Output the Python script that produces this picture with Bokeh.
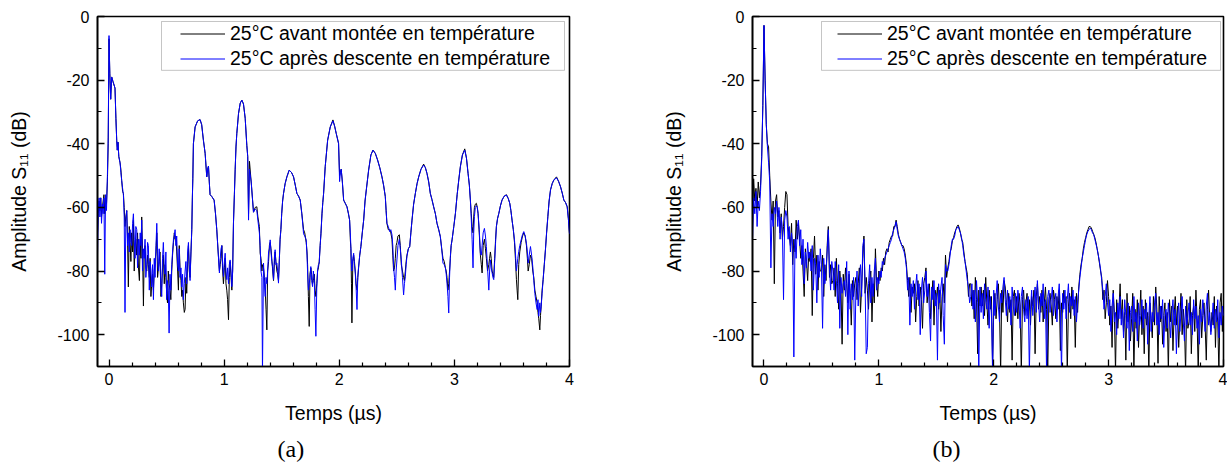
from bokeh.plotting import figure
from bokeh.models import Range1d, FixedTicker, Legend, LegendItem, BoxAnnotation, Title
from bokeh.layouts import row
from bokeh.embed import file_html
from bokeh.resources import INLINE

# ---------------- data : panel (a) ----------------
t_a = [
    -0.100, -0.093, -0.086, -0.079, -0.072, -0.065, -0.058, -0.051, -0.044, -0.037,
    -0.030, -0.022, -0.014, -0.007, 0.000, 0.007, 0.0145, 0.023, 0.035, 0.052,
    0.060, 0.067, 0.072, 0.078, 0.085, 0.096, 0.103, 0.110, 0.118, 0.125,
    0.132, 0.139, 0.146, 0.154, 0.161, 0.168, 0.176, 0.183, 0.190, 0.197,
    0.205, 0.212, 0.219, 0.226, 0.233, 0.241, 0.248, 0.256, 0.264, 0.271,
    0.278, 0.284, 0.291, 0.299, 0.306, 0.313, 0.320, 0.328, 0.335, 0.342,
    0.350, 0.357, 0.364, 0.371, 0.378, 0.386, 0.393, 0.400, 0.408, 0.415,
    0.422, 0.429, 0.436, 0.443, 0.451, 0.458, 0.465, 0.472, 0.480, 0.487,
    0.494, 0.501, 0.508, 0.515, 0.522, 0.530, 0.537, 0.545, 0.552, 0.560,
    0.567, 0.574, 0.581, 0.588, 0.596, 0.603, 0.610, 0.617, 0.625, 0.632,
    0.639, 0.646, 0.654, 0.661, 0.668, 0.675, 0.683, 0.690, 0.697, 0.704,
    0.712, 0.719, 0.724, 0.728, 0.733, 0.748, 0.770, 0.791, 0.805, 0.820,
    0.835, 0.849, 0.857, 0.864, 0.871, 0.878, 0.893, 0.913, 0.925, 0.936,
    0.948, 0.959, 0.966, 0.973, 0.980, 0.987, 0.994, 1.002, 1.009, 1.016,
    1.023, 1.030, 1.038, 1.045, 1.052, 1.060, 1.067, 1.074, 1.081, 1.089,
    1.096, 1.103, 1.110, 1.125, 1.140, 1.154, 1.168, 1.183, 1.197, 1.205,
    1.212, 1.220, 1.235, 1.255, 1.270, 1.284, 1.293, 1.306, 1.313, 1.320,
    1.328, 1.333, 1.342, 1.350, 1.357, 1.364, 1.371, 1.378, 1.386, 1.393,
    1.400, 1.407, 1.414, 1.422, 1.429, 1.436, 1.443, 1.450, 1.458, 1.465,
    1.472, 1.480, 1.486, 1.493, 1.500, 1.508, 1.516, 1.530, 1.545, 1.565,
    1.585, 1.603, 1.618, 1.632, 1.647, 1.661, 1.675, 1.690, 1.700, 1.713,
    1.720, 1.725, 1.732, 1.739, 1.746, 1.753, 1.760, 1.768, 1.775, 1.783,
    1.790, 1.797, 1.805, 1.812, 1.819, 1.826, 1.834, 1.841, 1.850, 1.857,
    1.864, 1.878, 1.899, 1.922, 1.945, 1.960, 1.974, 1.994, 2.003, 2.010,
    2.017, 2.027, 2.038, 2.052, 2.067, 2.080, 2.090, 2.096, 2.101, 2.106,
    2.110, 2.118, 2.125, 2.132, 2.139, 2.146, 2.154, 2.161, 2.168, 2.178,
    2.188, 2.200, 2.212, 2.224, 2.235, 2.255, 2.275, 2.293, 2.313, 2.333,
    2.352, 2.371, 2.385, 2.400, 2.407, 2.414, 2.426, 2.438, 2.448, 2.458,
    2.465, 2.472, 2.480, 2.487, 2.494, 2.501, 2.510, 2.522, 2.530, 2.539,
    2.549, 2.559, 2.566, 2.574, 2.581, 2.588, 2.600, 2.612, 2.622, 2.632,
    2.646, 2.661, 2.676, 2.690, 2.710, 2.733, 2.748, 2.762, 2.777, 2.791,
    2.805, 2.820, 2.835, 2.849, 2.864, 2.878, 2.890, 2.901, 2.912, 2.922,
    2.929, 2.936, 2.944, 2.951, 2.958, 2.965, 2.972, 2.980, 2.995, 3.009,
    3.024, 3.038, 3.052, 3.070, 3.090, 3.105, 3.119, 3.130, 3.139, 3.147,
    3.154, 3.162, 3.168, 3.174, 3.182, 3.191, 3.199, 3.206, 3.216, 3.226,
    3.234, 3.241, 3.250, 3.261, 3.270, 3.278, 3.288, 3.299, 3.306, 3.313,
    3.320, 3.328, 3.335, 3.342, 3.350, 3.358, 3.365, 3.375, 3.386, 3.400,
    3.414, 3.432, 3.452, 3.468, 3.481, 3.491, 3.501, 3.512, 3.522, 3.530,
    3.539, 3.545, 3.551, 3.559, 3.568, 3.580, 3.592, 3.603, 3.615, 3.626,
    3.634, 3.641, 3.650, 3.661, 3.671, 3.681, 3.690, 3.699, 3.709, 3.719,
    3.726, 3.733, 3.742, 3.748, 3.754, 3.762, 3.771, 3.781, 3.791, 3.801,
    3.812, 3.823, 3.835, 3.850, 3.864, 3.887, 3.905, 3.922, 3.937, 3.951,
    3.966, 3.980, 3.990, 4.000,
]

# 25°C après descente en température (blue)
apres_a = [
    -75, -60, -57, -63, -57, -65, -59, -62, -57, -81,
    -56, -61, -50, -38, -6, -18, -26, -19, -20.5, -22.5,
    -32, -39, -42, -39.5, -44, -46, -49, -51.5, -54, -56,
    -63, -93, -64, -61, -72, -68, -74, -67, -71, -72,
    -65, -62, -70, -76, -66, -67, -79, -70, -75, -68,
    -72, -64, -80, -73, -76, -70, -82, -78, -71, -72,
    -86, -77, -80, -85, -78, -89, -76, -82, -72, -65,
    -74, -80, -73, -78, -85, -88, -76, -71, -79, -81,
    -74, -89, -83, -86, -99.5, -81, -86, -78, -74, -70,
    -69, -67, -72, -69, -78, -80, -73, -82, -79, -85,
    -81, -89, -84, -80, -77, -84, -74, -71, -78, -83,
    -74, -67, -57, -51, -40, -34.7, -32.8, -32.4, -34, -38.9,
    -43, -50.4, -48, -47, -52, -56, -56.6, -57.7, -62, -67,
    -74, -80.6, -76, -73, -72, -78, -81.7, -77, -74.4, -80,
    -82.7, -79, -84, -78, -76.5, -80, -84.9, -80, -65, -56,
    -48, -41, -36.8, -30.5, -27.2, -26.3, -27.5, -32, -40.5, -44,
    -64, -48, -52, -61.5, -60.5, -61, -64, -68, -72, -80,
    -82, -112, -77.5, -84, -88, -82, -84, -80, -74, -73,
    -70.2, -74, -77, -79, -82.7, -76, -73.3, -78, -77.5, -80,
    -83.8, -76, -70, -67, -62, -58, -55.6, -52.5, -50.4, -48.3,
    -49, -50.4, -53, -55.6, -56.5, -57.7, -62, -68.3, -69, -70.2,
    -75, -80.6, -86, -84, -82, -78.6, -83, -84.9, -80, -82.7,
    -92, -100.5, -85, -79.6, -78, -77.5, -72, -68.3, -62, -58.5,
    -55.6, -47.2, -38.9, -34.7, -32.8, -34.5, -36.8, -39.9, -51.9, -49,
    -48, -52, -57.7, -58.7, -59.8, -62, -64, -68, -72.3, -78,
    -80, -76, -74.4, -78, -80.6, -85, -92.1, -82, -78.6, -75,
    -72.3, -68, -64, -58, -54.5, -48.3, -43.5, -42, -43, -45.1,
    -47.5, -50.4, -53, -56.6, -61, -65, -66, -67.6, -67, -68.6,
    -72, -78.6, -82, -86, -80, -76.5, -72, -70, -73, -76.5,
    -82, -87.5, -84, -81.7, -78, -75.4, -73, -72.3, -68, -64,
    -59, -55.6, -52.5, -50.4, -48, -46.7, -47.5, -49.3, -52, -55.6,
    -57.5, -59.8, -62, -65, -67, -69.2, -73, -77.5, -78, -79,
    -81, -83.8, -88, -93.2, -82, -75.4, -72, -70.2, -66, -61.9,
    -56, -51.4, -47.2, -43.5, -42, -44.5, -49.3, -53, -57.7, -64,
    -70, -79, -68, -62.9, -60, -59.5, -60, -61.9, -67, -74.4,
    -75, -72, -68, -66.6, -69, -72.3, -79, -86, -80, -76.5,
    -79, -80.6, -82, -82.7, -77, -71, -66, -63.5, -61.9, -59.5,
    -57.7, -56.5, -56.1, -57.2, -58.7, -61, -64, -67, -70.2, -74,
    -80, -78, -76, -73.9, -72, -70.2, -68.5, -67.6, -69, -71.3,
    -74, -77.5, -75, -72.3, -75, -78.6, -83, -87, -90, -92.1,
    -89, -94.2, -90, -93, -91.1, -87, -82.7, -78, -73.3, -68,
    -62.9, -58, -54.5, -52.5, -51.4, -50.7, -51.8, -53.5, -55.5, -57.7,
    -58.5, -59.8, -63.5, -68.3,
]

# 25°C avant montée en température (black)
avant_a = [
    -68, -62, -58, -61, -57, -63, -60, -58, -56, -62,
    -57, -59, -52, -40, -7, -18, -26, -19, -20.5, -22.5,
    -32, -39, -42, -39.5, -44, -46, -48, -51.5, -55, -55.6,
    -60, -66, -63, -61, -70, -85, -66, -71, -77, -68,
    -74, -64, -80, -72, -70, -75, -68, -79, -83, -70,
    -76, -63, -73, -91, -74, -72, -79, -80, -75, -78,
    -82, -76, -88, -84, -81, -86, -80, -77, -74, -68,
    -82, -79, -77, -74, -88, -84, -79, -75, -84, -78,
    -82, -87, -90, -80, -84, -86, -89, -80, -75, -71,
    -68, -70, -69, -74, -80, -86, -72, -79, -83, -88,
    -86, -90, -93, -92, -82, -87, -77, -72, -80, -82,
    -74, -67, -57, -51, -40, -34.7, -32.8, -32.4, -34, -38.9,
    -43, -50.4, -48, -47, -52, -56, -56.6, -57.7, -62, -67,
    -74, -80, -78, -76, -72, -80, -84, -79, -76, -84,
    -86, -89, -95.3, -82, -77, -82, -86, -80, -65, -56,
    -48, -41, -36.8, -30.5, -27.2, -26.3, -27.5, -32, -40.5, -44,
    -62, -45.5, -52, -61.5, -60, -59.8, -63, -66, -74.4, -76,
    -80, -78, -79, -82, -86, -92, -98.5, -80, -77, -72,
    -71, -73, -76, -80, -83, -78, -74, -77, -80, -81,
    -83, -76, -70, -67, -62, -58, -55.6, -52.5, -50.4, -48.3,
    -49, -50.4, -53, -55.6, -56.5, -57.7, -62, -67, -68, -71,
    -74, -78, -88, -97.4, -81, -79, -81, -84, -83, -81,
    -86, -88, -84, -80, -79, -77, -72, -68.3, -62, -58.5,
    -55.6, -47.2, -38.9, -34.7, -32.5, -34.5, -36.8, -39.9, -50, -49,
    -48, -52, -57.7, -58.7, -59.8, -62, -64, -70, -73, -84,
    -96.3, -77, -75, -77, -80, -84, -86, -82, -79, -75,
    -72.3, -68, -64, -58, -54.5, -48.3, -43.5, -42, -43, -45.1,
    -47.5, -50.4, -53, -56.6, -61, -65, -67, -67, -68, -70,
    -75, -80, -79, -76, -72, -71, -69, -68.6, -72, -78,
    -80, -82, -83, -80, -77, -75, -73, -72.3, -68, -64,
    -59, -55.6, -52.5, -50.4, -48, -46.4, -47.5, -49.3, -52, -55.6,
    -57.5, -59.8, -62, -65, -67, -69.2, -73, -76, -77, -79,
    -80, -82, -86, -84, -80, -76, -72, -70.2, -66, -61.9,
    -56, -51.4, -47.2, -43.5, -41.6, -44.5, -49.3, -53, -57.7, -62,
    -66, -68, -63, -60, -59, -58.7, -60, -62, -68, -75,
    -78, -80.6, -72, -70, -73, -76, -80, -78, -76, -74,
    -76, -80, -81, -82, -76, -70, -66, -63.5, -61.9, -59.5,
    -57.7, -56.5, -56, -57.2, -58.7, -61, -64, -67, -71, -76,
    -82.7, -86, -89, -78, -74, -71, -69, -68, -69, -72,
    -76, -80, -78, -75, -76, -80, -82, -86, -88, -90,
    -93, -95, -98.5, -94, -91, -86, -82.7, -78, -73.3, -68,
    -62.9, -58, -54.5, -52.5, -51.4, -50.4, -51.8, -53.5, -55.5, -57.7,
    -58.5, -59.8, -63.5, -68.3,
]

# ---------------- data : panel (b) ----------------
# uniformly sampled time axis (µs), 0.01 µs step from -0.10 to 4.00
t_b = [round(-0.10 + 0.01 * i, 2) for i in range(411)]

apres_b = [
    -70, -57, -62, -55, -66, -58, -61, -55, -45, -28,
    -2.8, -20, -34, -41, -46, -52, -79, -62, -66, -60,
    -62, -58, -66, -60, -70, -63, -67, -89, -64, -61,
    -63, -70, -66, -74, -68, -72, -107, -70, -76, -66,
    -64, -72, -67, -78, -70, -84, -74, -79, -71, -76,
    -74, -80, -72, -86, -76, -78, -90, -75, -82, -73,
    -78, -98, -76, -84, -80, -74, -67, -79, -86, -77,
    -80, -86, -77, -83, -90, -78, -98, -82, -87, -84,
    -83, -88, -77, -100, -80, -92, -84, -89, -82, -108,
    -86, -80, -91, -83, -78, -88, -72, -70, -84, -106,
    -104, -84, -78, -90, -82, -88, -80, -76, -86, -82,
    -84, -80, -82, -77, -78, -76, -75, -74, -73, -72,
    -71, -70, -68, -67, -66, -64.5, -67, -69, -70, -71,
    -72, -73, -74, -76, -79, -86, -82, -97, -84, -88,
    -83, -92, -85, -81, -89, -84, -100, -86, -82, -90,
    -86, -80, -88, -84, -93, -102, -85, -89, -83, -91,
    -87, -108, -84, -90, -85, -82, -94, -103, -78, -80,
    -80, -78, -75, -72, -70, -70, -69, -67, -66.5, -66,
    -67, -68, -69.5, -72, -75, -77, -80, -83, -85, -90,
    -88, -84, -92, -86, -96, -83, -90, -112, -85, -93,
    -87, -95, -84, -89, -92, -85, -98, -88, -93, -112,
    -86, -94, -88, -83, -91, -96, -87, -90, -85, -82,
    -89, -94, -86, -92, -88, -97, -85, -91, -94, -87,
    -93, -86, -90, -98, -88, -85, -92, -96, -89, -95,
    -88, -112, -92, -86, -94, -89, -85, -93, -83, -90,
    -96, -87, -91, -84, -95, -89, -112, -88, -86, -93,
    -89, -85, -94, -90, -87, -96, -88, -84, -92, -112,
    -87, -92, -86, -95, -89, -84, -93, -88, -91, -86,
    -94, -88, -96, -90, -86, -82, -79, -76, -74, -72,
    -70, -68.5, -67.5, -67, -66.5, -67, -68, -68.5, -70, -71.5,
    -73, -75, -77, -79.5, -83, -86, -92, -88, -84, -90,
    -94, -89, -99, -91, -87, -96, -93, -100, -90, -95,
    -88, -97, -92, -101, -89, -94, -98, -90, -105, -93,
    -91, -99, -88, -96, -93, -102, -90, -97, -94, -89,
    -98, -92, -95, -90, -103, -94, -88, -99, -93, -96,
    -90, -87, -97, -93, -100, -91, -95, -89, -104, -94,
    -92, -98, -90, -95, -101, -93, -89, -97, -92, -106,
    -95, -90, -99, -93, -88, -96, -102, -91, -97, -94,
    -90, -97, -93, -100, -89, -95, -91, -98, -94, -103,
    -92, -96, -89, -94, -99, -91, -87, -97, -93, -100,
    -95, -90, -98, -92, -96, -89, -101, -93, -97, -91,
    -94,
]

avant_b = [
    -66, -51, -58, -54, -60, -52, -57, -53, -44, -28,
    -2.8, -20, -34, -40, -41, -50, -58, -64, -58, -84,
    -58, -56, -63, -61, -68, -62, -70, -66, -60, -55,
    -56, -66, -69, -72, -65, -78, -70, -74, -64, -70,
    -65, -70, -76, -72, -80, -88, -73, -77, -83, -74,
    -77, -73, -94, -76, -69, -81, -75, -86, -77, -80,
    -80, -75, -88, -78, -83, -72, -66, -82, -78, -84,
    -83, -79, -88, -76, -84, -92, -80, -85, -103, -81,
    -86, -79, -84, -90, -81, -87, -97, -83, -88, -84,
    -82, -89, -84, -79, -93, -85, -76, -69, -87, -82,
    -86, -92, -83, -80, -96, -84, -90, -73, -83, -88,
    -80, -83, -79, -80, -76, -78, -74, -73, -74, -71,
    -70, -69, -69, -66, -66, -64, -66, -68.5, -70, -71,
    -72, -72, -73, -75, -78, -83, -88, -82, -93, -85,
    -87, -84, -96, -88, -83, -91, -85, -89, -98, -84,
    -82, -79, -90, -86, -84, -95, -88, -83, -97, -86,
    -89, -85, -92, -86, -99, -88, -84, -90, -75, -82,
    -79, -77, -74, -73, -70.5, -69.5, -68, -67, -66, -65.5,
    -66.5, -68, -70, -71, -74, -77, -79, -81, -88, -84,
    -84, -91, -86, -95, -82, -89, -106, -86, -91, -85,
    -91, -86, -94, -82, -90, -97, -86, -92, -88, -110,
    -92, -87, -95, -89, -84, -92, -112, -86, -93, -83,
    -85, -90, -96, -87, -93, -89, -108, -88, -86, -94,
    -88, -95, -87, -91, -112, -89, -86, -94, -90, -87,
    -94, -89, -97, -88, -91, -86, -106, -88, -84, -92,
    -88, -93, -86, -96, -90, -85, -92, -112, -89, -87,
    -91, -97, -86, -89, -95, -88, -92, -86, -105, -90,
    -93, -86, -90, -88, -112, -91, -87, -95, -85, -92,
    -89, -104, -87, -93, -85, -81, -78, -76, -73, -71,
    -69.5, -68, -67, -66, -66, -66.5, -67.5, -68.5, -69.5, -71,
    -73, -75, -77.5, -80, -82, -89, -86, -95, -90, -83,
    -88, -97, -91, -104, -86, -93, -112, -89, -98, -92,
    -84, -95, -89, -99, -93, -108, -87, -96, -91, -102,
    -95, -87, -112, -92, -98, -89, -104, -94, -86, -100,
    -91, -106, -89, -97, -93, -112, -90, -95, -101, -88,
    -97, -85, -92, -109, -88, -96, -91, -103, -94, -90,
    -99, -93, -112, -89, -96, -91, -105, -94, -88, -97,
    -91, -104, -95, -87, -100, -92, -97, -112, -89, -98,
    -96, -88, -106, -94, -91, -99, -86, -95, -112, -92,
    -89, -101, -94, -90, -97, -108, -92, -86, -95, -99,
    -93, -97, -88, -104, -91, -96, -112, -90, -87, -99,
    -90,
]

legend_labels = ["25°C avant montée en température", "25°C après descente en température"]
x_ticks = [0, 1, 2, 3, 4]
x_minor = [0.2, 0.4, 0.6, 0.8, 1.2, 1.4, 1.6, 1.8, 2.2, 2.4, 2.6, 2.8, 3.2, 3.4, 3.6, 3.8]
y_ticks = [0, -20, -40, -60, -80, -100]
y_minor = [-10, -30, -50, -70, -90]
x_title = "Temps (µs)"
y_title = "Amplitude S\u2081\u2081 (dB)"
captions = ["(a)", "(b)"]

assert len(t_a) == len(apres_a) == len(avant_a)
assert len(t_b) == len(apres_b) == len(avant_b)

# ---------------- layout / style ----------------
FONT = "Liberation Sans"
XR = (-0.1, 4.0)
YR = (-110.0, 0.0)
FIG_H = 468
TOP = 16
FRAME_H = 351


def make_panel(t, avant, apres, left, frame_w, right, caption, cap_offset, leg_dx, box_l, box_r):
    width = left + frame_w + right

    def X(px):  # figure-local pixel -> data x (for the legend frame)
        return XR[0] + (px - left) * (XR[1] - XR[0]) / frame_w

    def Y(py):  # figure-local pixel -> data y
        return YR[1] - (py - TOP) * (YR[1] - YR[0]) / FRAME_H

    p = figure(width=width, height=FIG_H, x_range=Range1d(*XR), y_range=Range1d(*YR),
               output_backend="svg", toolbar_location=None,
               min_border_left=left, min_border_right=right, min_border_top=TOP,
               min_border_bottom=FIG_H - TOP - FRAME_H)
    p.background_fill_color = "white"
    p.border_fill_color = "white"
    p.outline_line_color = "black"
    p.outline_line_width = 1.6
    p.xgrid.visible = False
    p.ygrid.visible = False

    p.xaxis.ticker = FixedTicker(ticks=x_ticks, minor_ticks=x_minor)
    p.yaxis.ticker = FixedTicker(ticks=y_ticks, minor_ticks=y_minor)
    p.yaxis.major_label_overrides = {v: str(v) for v in y_ticks}
    for ax in (p.xaxis[0], p.yaxis[0]):
        ax.axis_line_width = 1.6
        ax.axis_line_color = "black"
        ax.major_tick_in = 7
        ax.major_tick_out = 0
        ax.minor_tick_in = 4
        ax.minor_tick_out = 0
        ax.major_tick_line_width = 1.3
        ax.minor_tick_line_width = 1.2
        ax.major_tick_line_color = "black"
        ax.minor_tick_line_color = "black"
        ax.major_label_text_font = FONT
        ax.major_label_text_font_size = "16px"
        ax.major_label_text_color = "black"
        ax.axis_label_text_font = FONT
        ax.axis_label_text_font_size = "19.5px"
        ax.axis_label_text_font_style = "normal"
        ax.axis_label_text_color = "black"
    p.xaxis.major_label_standoff = 6
    p.yaxis.major_label_standoff = 8
    p.xaxis.axis_label = x_title
    p.xaxis.axis_label_standoff = 14
    p.yaxis.axis_label = y_title
    p.yaxis.axis_label_standoff = 24

    r_k = p.line(t, avant, line_color="black", line_width=1)
    r_b = p.line(t, apres, line_color="blue", line_width=1)

    # legend frame
    p.add_layout(BoxAnnotation(left=X(box_l), right=X(box_r), top=Y(21), bottom=Y(70),
                               fill_alpha=0, line_color="#404040", line_width=1))
    leg = Legend(items=[LegendItem(label=legend_labels[0], renderers=[r_k]),
                        LegendItem(label=legend_labels[1], renderers=[r_b])],
                 location=(leg_dx, FRAME_H - 6 - 50), padding=0, spacing=0, margin=0,
                 glyph_width=45, glyph_height=25, label_height=25, label_standoff=5,
                 border_line_alpha=0, background_fill_alpha=0,
                 label_text_font=FONT, label_text_font_size="19.5px", label_text_color="black")
    p.add_layout(leg)

    # sub-figure caption below the x axis title
    p.add_layout(Title(text=caption, align="left", offset=cap_offset, standoff=14,
                       text_font="Liberation Serif", text_font_size="24px",
                       text_font_style="normal", text_color="black"), "below")
    return p


pa = make_panel(t_a, avant_a, apres_a, left=97, frame_w=472, right=79, caption=captions[0],
                cap_offset=180, leg_dx=83, box_l=161, box_r=564)
pb = make_panel(t_b, avant_b, apres_b, left=104, frame_w=471, right=4, caption=captions[1],
                cap_offset=180, leg_dx=85, box_l=173, box_r=572)

layout = row(pa, pb)
open("out.html", "w").write(file_html(layout, INLINE))
